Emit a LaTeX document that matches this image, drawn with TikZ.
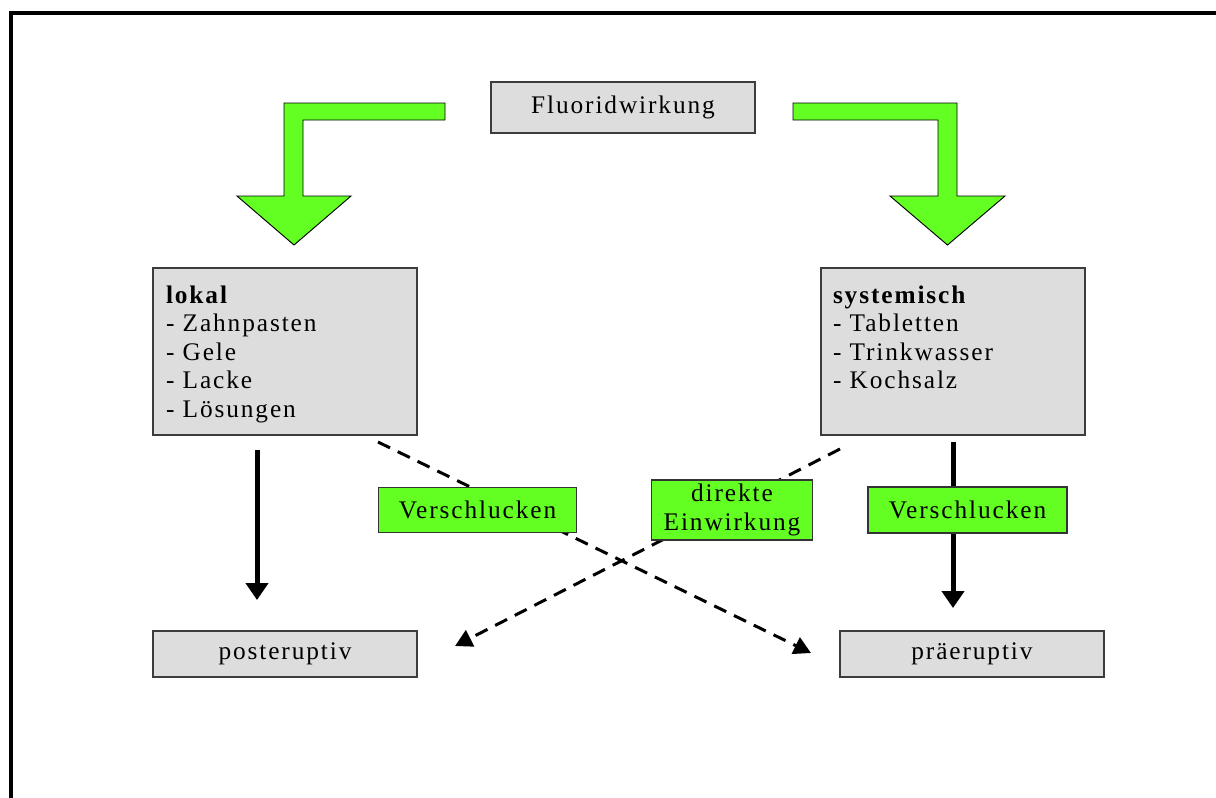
\documentclass[tikz,border=0pt]{standalone}
\usepackage{fontspec}
\setmainfont[LetterSpace=7.5]{Liberation Serif}
\usetikzlibrary{arrows.meta}
\definecolor{boxgray}{RGB}{221,221,221}
\definecolor{boxline}{RGB}{60,60,60}
\definecolor{arrowgreen}{RGB}{100,255,34}
\begin{document}
\begin{tikzpicture}[x=0.75pt,y=-0.75pt,
  every node/.style={inner sep=0pt,outer sep=0pt,font=\fontsize{19}{21.4}\selectfont},
  graybox/.style={draw=boxline,line width=1.1pt,fill=boxgray,minimum width=198pt},
  greenlabel/.style={draw=black!80,line width=0.8pt,fill=arrowgreen,align=center},
  bigarrow/.style={draw=black,line width=0.7pt,fill=arrowgreen,line join=miter},
  solidarrow/.style={line width=3.75pt,-{Triangle[length=12.75pt,width=16.5pt]}},
  dasharrow/.style={line width=2.25pt,dash pattern=on 10pt off 6.5pt,-{Triangle[length=12.75pt,width=13.5pt]}}]
\useasboundingbox (0,0) rectangle (1216,797);
\fill[white] (0,0) rectangle (1216,797);
% frame
\draw[line width=2.4pt] (11,800) -- (11,13) -- (1220,13);

% green block arrows
\draw[bigarrow] (445,103) -- (284,103) -- (284,196) -- (237,196) -- (294,245)
  -- (351,196) -- (303,196) -- (303,120) -- (445,120) -- cycle;
\draw[bigarrow] (793,103) -- (957,103) -- (957,196) -- (1005,196) -- (947.5,245)
  -- (890,196) -- (938,196) -- (938,120) -- (793,120) -- cycle;

% boxes
\node[graybox,minimum height=38.25pt] (fluor) at (623,107.5) {Fluoridwirkung};
\node[graybox,minimum height=125.25pt] (lokal) at (285,351.5) {};
\node[graybox,minimum height=125.25pt] (syst) at (953,351.5) {};
\node[graybox,minimum height=34.5pt] (post) at (285,654) {posteruptiv};
\node[graybox,minimum height=34.5pt] (prae) at (972,654) {präeruptiv};

\node[anchor=base west] (lokaltxt) at (166,303)
  {\parbox[t]{190pt}{\textbf{lokal}\\- Zahnpasten\\- Gele\\- Lacke\\- Lösungen}};
\node[anchor=base west] (systtxt) at (833,303)
  {\parbox[t]{190pt}{\textbf{systemisch}\\- Tabletten\\- Trinkwasser\\- Kochsalz}};

% connectors
\coordinate (d1s) at (378,442);
\coordinate (d1e) at (811,653);
\coordinate (d2s) at (840,449);
\coordinate (d2e) at (455,646);
\coordinate (a1s) at (257,450);
\coordinate (a1e) at (257,600);
\coordinate (a2s) at (953,442);
\coordinate (a2e) at (953,608);
\draw[dasharrow] (d1s) -- (d1e);
\draw[dasharrow] (d2s) -- (d2e);
\draw[solidarrow] (a1s) -- (a1e);
\draw[solidarrow] (a2s) -- (a2e);

% labels
\node[greenlabel,minimum width=148.5pt,minimum height=33.75pt] (v1) at (477.5,510) {Verschlucken};
\node[greenlabel,minimum width=149.25pt,minimum height=34.5pt] (v2) at (967.5,510) {Verschlucken};
\node[greenlabel,minimum width=120.75pt,minimum height=45pt] (de) at (732,510) {direkte\\Einwirkung};
\end{tikzpicture}
\end{document}
